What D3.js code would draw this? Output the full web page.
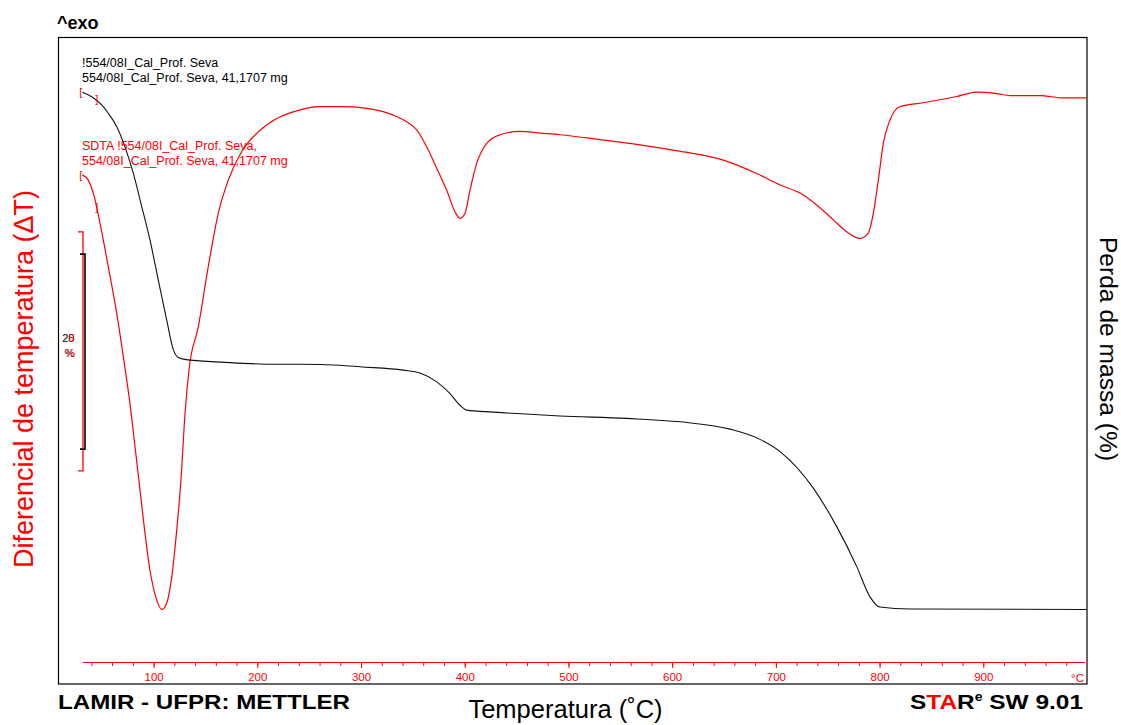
<!DOCTYPE html>
<html lang="pt">
<head>
<meta charset="UTF-8">
<title>TG / SDTA - 554/08I</title>
<script src="https://cdnjs.cloudflare.com/ajax/libs/d3/7.8.5/d3.min.js"></script>
<style>
  body { margin: 0; background: #fff; }
  svg text { font-family: "Liberation Sans", Arial, sans-serif; }
</style>
</head>
<body>
<svg id="chart" width="1121" height="725"></svg>
<script>
// TG curve: temperature (°C) and remaining mass (%)
var tgTemp = [31.3, 40.3, 50.0, 56.3, 64.4, 72.4, 80.4, 88.5, 96.5, 104.5, 112.6, 119.0, 123.8, 133.5,
  168.8, 217.1, 241.2, 279.7, 299.0, 340.8, 356.9, 373.0, 385.8, 395.4, 401.9, 427.5, 491.9, 556.2,
  607.6, 655.8, 684.7, 704.0, 736.1, 758.7, 778.0, 790.8, 800.4, 829.3, 999.7];
var tgMass = [100.0, 99.55, 98.7, 97.85, 96.5, 94.4, 91.7, 88.3, 84.85, 80.75, 76.65, 73.6, 72.8, 72.55,
  72.3, 72.1, 72.1, 72.0, 71.85, 71.5, 71.2, 70.3, 69.1, 67.9, 67.4, 67.2, 66.8, 66.55,
  66.2, 65.45, 64.4, 63.15, 59.4, 55.45, 51.35, 48.25, 47.2, 47.0, 46.95];

// SDTA curve: temperature (°C) and temperature difference (arbitrary zero, °C)
var dtaTemp = [31.3, 37.0, 41.9, 48.3, 56.3, 64.4, 72.4, 77.2, 82.1, 86.9, 91.7, 96.5, 103.0, 107.8,
  112.6, 117.5, 122.3, 126.4, 130.3, 134.1, 143.1, 152.7, 162.4, 172.0, 185.0, 201.0, 218.7, 234.7,
  260.5, 282.9, 308.7, 331.1, 344.0, 353.7, 363.3, 373.0, 382.6, 390.6, 395.4, 400.3, 405.1, 411.5,
  421.2, 434.0, 453.3, 475.8, 491.9, 530.5, 569.1, 601.1, 649.3, 681.5, 704.0, 723.3, 739.4, 755.4,
  768.3, 781.1, 789.1, 794.0, 798.8, 803.6, 810.1, 819.7, 842.2, 874.4, 893.7, 913.0, 925.8, 954.7,
  977.2, 999.7];
var dtaSignal = [10.65, 10.54, 10.27, 9.64, 8.73, 7.76, 6.61, 5.87, 4.96, 4.06, 3.15, 2.38, 1.76, 1.56,
  1.69, 2.24, 3.22, 4.27, 5.66, 6.57, 7.47, 8.73, 9.85, 10.54, 11.14, 11.55, 11.83, 11.97,
  12.08, 12.08, 12.03, 11.90, 11.76, 11.59, 11.24, 10.79, 10.33, 9.88, 9.74, 9.85, 10.33, 10.89,
  11.31, 11.49, 11.56, 11.52, 11.49, 11.39, 11.28, 11.17, 10.96, 10.68, 10.44, 10.27, 10.02, 9.71,
  9.46, 9.32, 9.43, 9.85, 10.54, 11.31, 11.80, 12.08, 12.16, 12.29, 12.38, 12.35, 12.31, 12.31,
  12.26, 12.26];

var majorTicks = [100, 200, 300, 400, 500, 600, 700, 800, 900];
var minorTicks = d3.range(40, 1000, 20);
var axisUnit = "°C";

// scale bars drawn at the left (20 % for TG, 5 for SDTA)
var tgBar = { top: 83.4, span: 20 };
var dtaBar = { top: 9.46, span: 5 };

var svg = d3.select("#chart");
var red = "#ff0000";

var x = d3.scaleLinear().domain([30, 1000]).range([81, 1087]);
var yTG = d3.scaleLinear().domain([39.31, 105.67]).range([684, 37]);
var yDTA = d3.scaleLinear().domain([0, 13.535]).range([684, 37]);

// plot frame
svg.append("rect")
  .attr("x", 58.5).attr("y", 37.5)
  .attr("width", 1087 - 58.5).attr("height", 684 - 37.5)
  .attr("fill", "none").attr("stroke", "#000").attr("stroke-width", 1.2);

// x axis (red)
var axisY = 662;
svg.append("g")
  .attr("transform", "translate(0," + axisY + ")")
  .call(d3.axisBottom(x).tickValues(minorTicks).tickSize(4).tickSizeOuter(0).tickFormat(""))
  .call(function(g) {
    g.select(".domain").attr("stroke", red).attr("d", "M" + x(32) + ",0.5H" + x(998));
    g.selectAll("line").attr("stroke", red);
  });
svg.append("g")
  .attr("transform", "translate(0," + axisY + ")")
  .call(d3.axisBottom(x).tickValues(majorTicks).tickSize(6).tickPadding(5).tickFormat(d3.format("d")))
  .call(function(g) {
    g.select(".domain").remove();
    g.selectAll("line").attr("stroke", red);
    g.selectAll("text").attr("fill", red).attr("font-size", 11.5)
      .attr("font-family", "Liberation Sans, Arial, sans-serif");
  });
svg.append("text")
  .attr("x", x(1000) - 3).attr("y", 682)
  .attr("text-anchor", "end").attr("fill", red).attr("font-size", 11.5)
  .text(axisUnit);

// curves
var tgData = tgTemp.map(function(t, i) { return [t, tgMass[i]]; });
var dtaData = dtaTemp.map(function(t, i) { return [t, dtaSignal[i]]; });

var tgLine = d3.line().x(function(d) { return x(d[0]); }).y(function(d) { return yTG(d[1]); })
  .curve(d3.curveMonotoneX);
var dtaLine = d3.line().x(function(d) { return x(d[0]); }).y(function(d) { return yDTA(d[1]); })
  .curve(d3.curveMonotoneX);

svg.append("path").datum(dtaData).attr("d", dtaLine)
  .attr("fill", "none").attr("stroke", red).attr("stroke-width", 1.2);
svg.append("path").datum(tgData).attr("d", tgLine)
  .attr("fill", "none").attr("stroke", "#111").attr("stroke-width", 1.1);

// curve start brackets
function brackets(px, py, closeDy) {
  svg.append("text").attr("x", px - 3).attr("y", py + 4)
    .attr("fill", red).attr("font-size", 11).text("[");
  svg.append("text").attr("x", px + 13).attr("y", py + closeDy)
    .attr("fill", red).attr("font-size", 11).text("]");
}
brackets(x(tgTemp[0]), yTG(tgMass[0]), 11);
brackets(x(dtaTemp[0]), yDTA(dtaSignal[0]), 36);

// scale bars
function scaleBar(yScale, bar, px, color, width) {
  var y1 = yScale(bar.top), y2 = yScale(bar.top - bar.span);
  svg.append("path")
    .attr("d", "M" + (px - 5) + "," + y1 + "H" + px + "V" + y2 + "H" + (px - 5))
    .attr("fill", "none").attr("stroke", color).attr("stroke-width", width);
}
scaleBar(yDTA, dtaBar, 83, red, 1.3);
scaleBar(yTG, tgBar, 85, "#000", 1.6);

svg.append("text").attr("x", 74.5).attr("y", 341.5).attr("text-anchor", "end")
  .attr("font-size", 11).attr("fill", "#000").text("2" + String(tgBar.span).slice(1));
svg.append("text").attr("x", 74.5).attr("y", 341.5).attr("text-anchor", "end")
  .attr("font-size", 11).attr("fill", red).text(String(dtaBar.span));
svg.append("text").attr("x", 75).attr("y", 356.5).attr("text-anchor", "end")
  .attr("font-size", 11).attr("fill", red).text("%");
svg.append("text").attr("x", 74).attr("y", 356.5).attr("text-anchor", "end")
  .attr("font-size", 11).attr("fill", "#000").attr("opacity", 0.6).text("%");

// sample labels
var small = 12.5;
svg.append("text").attr("x", 82).attr("y", 67).attr("font-size", small).attr("fill", "#000")
  .text("!554/08I_Cal_Prof. Seva");
svg.append("text").attr("x", 82).attr("y", 82).attr("font-size", small).attr("fill", "#000")
  .text("554/08I_Cal_Prof. Seva, 41,1707 mg");
svg.append("text").attr("x", 82).attr("y", 150).attr("font-size", small).attr("fill", red)
  .text("SDTA !554/08I_Cal_Prof. Seva,");
svg.append("text").attr("x", 82).attr("y", 165).attr("font-size", small).attr("fill", red)
  .text("554/08I_Cal_Prof. Seva, 41,1707 mg");

// headers and titles
svg.append("text").attr("x", 57).attr("y", 29)
  .attr("font-size", 18).attr("font-weight", "bold").attr("fill", "#000").text("^exo");

svg.append("text").attr("x", 58).attr("y", 708.5)
  .attr("font-size", 21).attr("font-weight", "bold").attr("fill", "#000")
  .attr("textLength", 292).attr("lengthAdjust", "spacingAndGlyphs")
  .text("LAMIR - UFPR: METTLER");

svg.append("text").attr("x", 565.5).attr("y", 718)
  .attr("text-anchor", "middle").attr("font-size", 25.5).attr("fill", "#000")
  .text("Temperatura (\u02DAC)");

svg.append("text").attr("transform", "translate(33,379) rotate(-90)")
  .attr("text-anchor", "middle").attr("font-size", 27).attr("fill", red)
  .text("Diferencial de temperatura (\u0394T)");

svg.append("text").attr("transform", "translate(1100,349) rotate(90)")
  .attr("text-anchor", "middle").attr("font-size", 24.6).attr("fill", "#000")
  .text("Perda de massa (%)");

var star = svg.append("text").attr("x", 910).attr("y", 708.5)
  .attr("font-size", 21).attr("font-weight", "bold").attr("fill", "#000")
  .attr("textLength", 173).attr("lengthAdjust", "spacingAndGlyphs");
star.append("tspan").text("S");
star.append("tspan").attr("fill", red).text("TA");
star.append("tspan").text("R");
star.append("tspan").attr("font-size", 12).attr("dy", -8).text("e");
star.append("tspan").attr("dy", 8).text(" SW 9.01");
</script>
</body>
</html>
